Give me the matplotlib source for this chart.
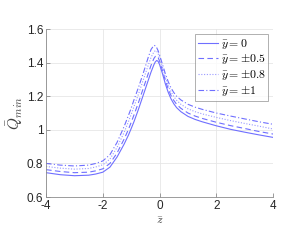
import matplotlib
matplotlib.use("Agg")
import matplotlib.pyplot as plt

z = [-4, -3.5, -3, -2.5, -2.25, -2, -1.75, -1.5, -1.25, -1.1, -1, -0.9, -0.75, -0.6, -0.5,
     -0.4, -0.3, -0.2, -0.15, -0.1, -0.05, 0, 0.1, 0.2, 0.3, 0.4, 0.5, 0.6, 0.75, 1, 1.25,
     1.5, 2, 2.5, 3, 3.5, 4]

q_y0 = [0.745, 0.733, 0.727, 0.730, 0.737, 0.748, 0.778, 0.838, 0.915, 0.968, 1.008, 1.050,
        1.120, 1.195, 1.245, 1.295, 1.345, 1.388, 1.405, 1.413, 1.407, 1.388, 1.335, 1.275,
        1.225, 1.185, 1.155, 1.132, 1.108, 1.080, 1.062, 1.048, 1.024, 1.003, 0.986, 0.970,
        0.955]
q_y05 = [0.763, 0.752, 0.745, 0.748, 0.756, 0.768, 0.800, 0.862, 0.945, 1.002, 1.045, 1.090,
         1.160, 1.235, 1.285, 1.335, 1.385, 1.425, 1.437, 1.440, 1.430, 1.408, 1.353, 1.295,
         1.245, 1.205, 1.175, 1.152, 1.128, 1.100, 1.082, 1.068, 1.045, 1.025, 1.008, 0.990,
         0.975]
q_y08 = [0.782, 0.772, 0.766, 0.770, 0.779, 0.792, 0.826, 0.895, 0.985, 1.048, 1.092, 1.140,
         1.210, 1.285, 1.335, 1.385, 1.432, 1.464, 1.471, 1.468, 1.452, 1.428, 1.373, 1.315,
         1.266, 1.228, 1.198, 1.176, 1.152, 1.125, 1.108, 1.095, 1.074, 1.055, 1.038, 1.022,
         1.005]
q_y1 = [0.800, 0.790, 0.785, 0.790, 0.800, 0.815, 0.852, 0.925, 1.020, 1.085, 1.130, 1.180,
        1.250, 1.325, 1.378, 1.432, 1.479, 1.503, 1.500, 1.488, 1.470, 1.445, 1.390, 1.335,
        1.288, 1.250, 1.222, 1.200, 1.178, 1.152, 1.135, 1.122, 1.100, 1.082, 1.065, 1.048,
        1.033]

labels = [r'$\bar{y}=0$', r'$\bar{y}=\pm0.5$', r'$\bar{y}=\pm0.8$', r'$\bar{y}=\pm1$']
xticks = [-4, -2, 0, 2, 4]
yticks = [0.6, 0.8, 1.0, 1.2, 1.4, 1.6]
yticklabels = ['0.6', '0.8', '1', '1.2', '1.4', '1.6']

plt.rcParams['font.family'] = ['Liberation Sans', 'DejaVu Sans']
plt.rcParams['mathtext.fontset'] = 'cm'

fig = plt.figure(figsize=(2.81, 2.4), dpi=100)
ax = fig.add_axes([0.164, 0.179, 0.808, 0.700])

col = '#6f6fff'
lw = 0.8
ax.plot(z, q_y0, color=col, lw=lw, ls='-', label=labels[0])
ax.plot(z, q_y05, color=col, lw=lw, ls=(0, (5, 3)), label=labels[1])
ax.plot(z, q_y08, color='#9a9aff', lw=lw, ls=(0, (1, 1.5)), label=labels[2])
ax.plot(z, q_y1, color=col, lw=lw, ls=(0, (5, 2, 1, 2)), label=labels[3])

ax.set_xlim(-4, 4)
ax.set_ylim(0.6, 1.6)
ax.set_xticks(xticks)
ax.set_xticklabels([str(t) for t in xticks])
ax.set_yticks(yticks)
ax.set_yticklabels(yticklabels)
ax.grid(True, color='#e6e6e6', lw=0.6)
ax.set_axisbelow(True)
for s in ['top', 'right']:
    ax.spines[s].set_visible(False)
for s in ['left', 'bottom']:
    ax.spines[s].set_color('#8c8c8c')
    ax.spines[s].set_linewidth(0.6)
ax.tick_params(direction='in', length=3, width=0.6, colors='#8c8c8c',
               labelcolor='#262626', labelsize=8.5, pad=2)

ax.set_xlabel(r'$\bar{z}$', fontsize=8.5, color='#404040', labelpad=2)
ax.set_ylabel(r'$\bar{Q}_{min}$', fontsize=11, color='#404040', labelpad=1)

leg = ax.legend(loc='upper right', fontsize=8.5, frameon=True, fancybox=False,
                handlelength=1.7, handletextpad=0.25, borderpad=0.25,
                labelspacing=0.15, borderaxespad=0.4)
leg.get_frame().set_edgecolor('#8c8c8c')
leg.get_frame().set_linewidth(0.6)

fig.savefig('out.png', dpi=100)
